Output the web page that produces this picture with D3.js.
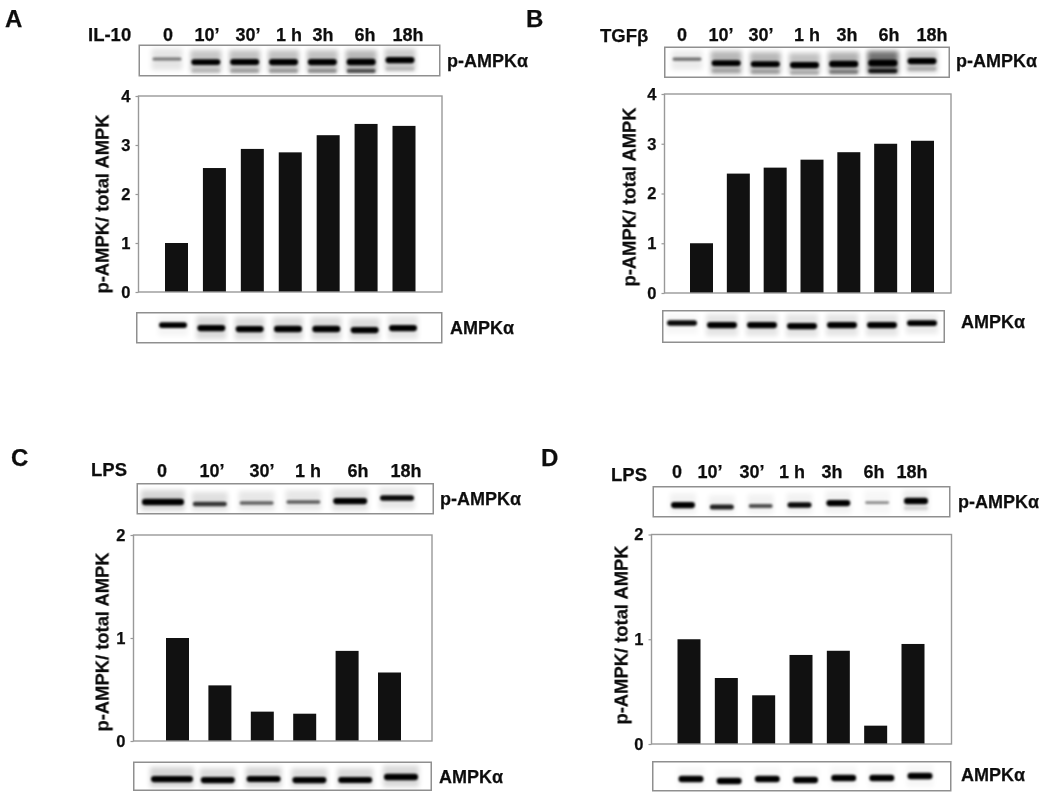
<!DOCTYPE html>
<html><head><meta charset="utf-8">
<script src="https://cdn.jsdelivr.net/npm/d3@7"></script>
<style>html,body{margin:0;padding:0;background:#fff}svg{display:block}text{font-family:"Liberation Sans",Arial,sans-serif;font-weight:700;fill:#111;stroke:#111;stroke-width:.25px}</style>
</head><body><div id="c"></div>
<script>
// ---- data ----
const timesA = ["0","10’","30’","1 h","3h","6h","18h"];
const timesB = ["0","10’","30’","1 h","3h","6h","18h"];
const timesC = ["0","10’","30’","1 h","6h","18h"];
const timesD = ["0","10’","30’","1 h","3h","6h","18h"];
const ratioA = [1.0,2.53,2.92,2.85,3.2,3.43,3.39];
const ratioB = [1.0,2.4,2.52,2.68,2.83,3.0,3.06];
const ratioC = [1.0,0.54,0.285,0.265,0.875,0.665];
const ratioD = [1.0,0.63,0.465,0.85,0.89,0.175,0.955];
const ticksAB = [0,1,2,3,4];
const ticksCD = [0,1,2];
// blot band densities (0-1): main band, lower band, lane smear
const pA = [[.3,.85,.9,.95,.95,1,.95],[0,.12,.22,.25,.3,.6,.12],[.1,.22,.24,.24,.24,.28,.2]];
const tA = [[.85,.95,.95,1,1,.95,.95],[0,0,0,0,0,0,0],[.04,.14,.14,.14,.14,.14,.1]];
const pB = [[.35,.85,.85,.95,1,1,.95],[0,.12,.18,.18,.35,.85,.15],[.08,.28,.28,.24,.3,.55,.22]];
const tB = [[.8,.95,.95,.95,.95,.95,.85],[0,0,0,0,0,0,0],[.03,.1,.1,.1,.1,.1,.08]];
const pC = [[1,.6,.4,.42,.95,.8],[0,0,0,0,0,0],[.16,.12,.09,.09,.12,.09]];
const tC = [[.95,.95,.9,.95,.9,.98],[0,0,0,0,0,0],[.17,.14,.16,.14,.14,.15]];
const pD = [[.95,.7,.5,.8,.95,.25,.98],[0,0,0,0,0,0,.1],[.05,.05,.05,.05,.05,.03,.07]];
const tD = [[1,1,1,1,1,1,1],[0,0,0,0,0,0,0],[.03,.03,.03,.03,.03,.03,.03]];

// ---- layout ----
const panels = [
 {id:"A",lx:5,ly:27,times:timesA,vals:ratioA,ticks:ticksAB,max:4,agent:"IL-10",ax:88,ay:40.5,labelsX:[168,207,248,289,323,365,408],labelY:40.5,
  box:[138.5,442,96,292],bar:[176.5,404],ylab:[108.5,204],
  top:{r:[138.5,440.5,44.5,76.5],lanes:[167,400],w:31,y:[59,62,62,62,62,62,60],d:pA,lab:[447,67],low:9},
  bot:{r:[136,442.5,312,343.5],lanes:[173,403],w:30,y:[325,328,329,329,329,330,328],d:tA,lab:[450,333.5]}},
 {id:"B",lx:526,ly:27,times:timesB,vals:ratioB,ticks:ticksAB,max:4,agent:"TGFβ",ax:600,ay:42,labelsX:[682,721,761,807,847,889,932],labelY:40.5,
  box:[664.5,951,94,293],bar:[701.5,922.5],ylab:[635.5,197],
  top:{r:[664,950,46.5,78],lanes:[687,922],w:31,y:[59,63,64,65,64,63,61],d:pB,lab:[956,67],low:8},
  bot:{r:[662,945,310,343],lanes:[682,922],w:32,y:[323,325,325,326,325,325,323],d:tB,lab:[961,328]}},
 {id:"C",lx:11,ly:466,times:timesC,vals:ratioC,ticks:ticksCD,max:2,agent:"LPS",ax:91,ay:476,labelsX:[162,212,262,308,358,406],labelY:476.5,
  box:[133.5,432,535,741],bar:[177.5,389.5],ylab:[108.5,642],
  top:{r:[136.5,434,483,514.5],lanes:[163,397],w:36,y:[502,504,503,502,501,498],d:pC,lab:[440,505],low:8},
  bot:{r:[133,432,761.5,791],lanes:[172,401],w:36,y:[779,780,779,780,780,777],d:tC,lab:[439,783]}},
 {id:"D",lx:541,ly:466,times:timesD,vals:ratioD,ticks:ticksCD,max:2,agent:"LPS",ax:611,ay:481,labelsX:[677,710,752,792,832,874,912],labelY:478,
  box:[651.5,951.5,534.5,744],bar:[689,913],ylab:[627.5,635],
  top:{r:[652.5,950.5,486,517.5],lanes:[683,916],w:26,y:[505,507,506,505,503,502.5,501],d:pD,lab:[958,508],low:7},
  bot:{r:[652,951.5,761,791.5],lanes:[691,920],w:27,y:[779,781,779,780,778,778,776],d:tD,lab:[961,781]}}
];

const svg = d3.select("#c").append("svg").attr("width",1050).attr("height",800);
const defs = svg.append("defs");
[["b1",1.05],["b3",2.6],["t",.3]].forEach(([id,s])=>defs.append("filter").attr("id",id)
  .attr("x","-30%").attr("y","-60%").attr("width","160%").attr("height","220%")
  .append("feGaussianBlur").attr("stdDeviation",s));

function blot(g,b,names,text){
  const [x0,x1,y0,y1]=b.r;
  const lane=d3.scalePoint().domain(d3.range(names.length)).range(b.lanes);
  const [main,low,smear]=b.d;
  const bg=g.append("g");
  names.forEach((_,i)=>{
    const cx=lane(i), w=(b.w+(i===0&&b.w>=36?8:0));
    const sy0=Math.max(y0+4,b.y[i]-12), sy1=Math.min(y1-4,b.y[i]+11);
    bg.append("rect").attr("x",cx-w/2).attr("width",w)
      .attr("y",sy0).attr("height",sy1-sy0)
      .attr("fill","#000").attr("opacity",smear[i]).attr("filter","url(#b3)");
    if(low[i]>0) bg.append("rect").attr("x",cx-w/2+1).attr("width",w-2)
      .attr("y",b.y[i]+b.low-2).attr("height",4).attr("rx",2)
      .attr("fill","#000").attr("opacity",low[i]).attr("filter","url(#b1)");
    const h=1.5+main[i]*5;
    bg.append("rect").attr("x",cx-w/2+1).attr("width",w-2)
      .attr("y",b.y[i]-h/2).attr("height",h).attr("rx",h/2)
      .attr("fill","#000").attr("opacity",Math.min(1,.2+main[i]*.95)).attr("filter","url(#b1)");
  });
  g.append("rect").attr("x",x0+.75).attr("y",y0+.75).attr("width",x1-x0-1.5).attr("height",y1-y0-1.5)
   .attr("fill","none").attr("stroke","#8f8f8f").attr("stroke-width",1.5);
  g.append("text").attr("x",b.lab[0]).attr("y",b.lab[1]).attr("font-size",18).attr("filter","url(#t)").text(text);
}

panels.forEach(p=>{
  const g=svg.append("g");
  g.append("text").attr("x",p.lx).attr("y",p.ly).attr("font-size",24).attr("filter","url(#t)").text(p.id);
  g.append("text").attr("x",p.ax).attr("y",p.ay).attr("font-size",18.5).attr("filter","url(#t)").text(p.agent);
  g.selectAll(".time").data(p.times).join("text").attr("class","time")
    .attr("x",(d,i)=>p.labelsX[i]).attr("y",p.labelY).attr("text-anchor","middle")
    .attr("font-size",18).attr("filter","url(#t)").text(d=>d);
  blot(g,p.top,p.times,"p-AMPKα");

  const [bx0,bx1,by0,by1]=p.box;
  const x=d3.scalePoint().domain(p.times).range(p.bar);
  const y=d3.scaleLinear().domain([0,p.max]).range([by1,by0]);
  g.selectAll(".bar").data(p.vals).join("rect").attr("class","bar")
    .attr("x",(d,i)=>x(p.times[i])-11.5).attr("width",23)
    .attr("y",d=>y(d)).attr("height",d=>y(0)-y(d)).attr("fill","#111");
  g.append("rect").attr("x",bx0).attr("y",by0).attr("width",bx1-bx0).attr("height",by1-by0)
    .attr("fill","none").attr("stroke","#999").attr("stroke-width",1.4);
  const axis=g.append("g").attr("transform",`translate(${bx0},0)`)
    .call(d3.axisLeft(y).tickValues(p.ticks).tickFormat(d3.format("d")).tickSize(3).tickPadding(5));
  axis.select(".domain").remove();
  axis.selectAll("line").attr("stroke","#999").attr("stroke-width",1.2);
  axis.selectAll("text").attr("font-size",16.5).attr("font-family",'"Liberation Sans"').attr("fill","#111").attr("filter","url(#t)");
  g.append("text").attr("transform",`translate(${p.ylab[0]},${p.ylab[1]}) rotate(-90)`)
    .attr("text-anchor","middle").attr("font-size",18.4).attr("filter","url(#t)").text("p-AMPK/ total AMPK");
  blot(g,p.bot,p.times,"AMPKα");
});
</script></body></html>
